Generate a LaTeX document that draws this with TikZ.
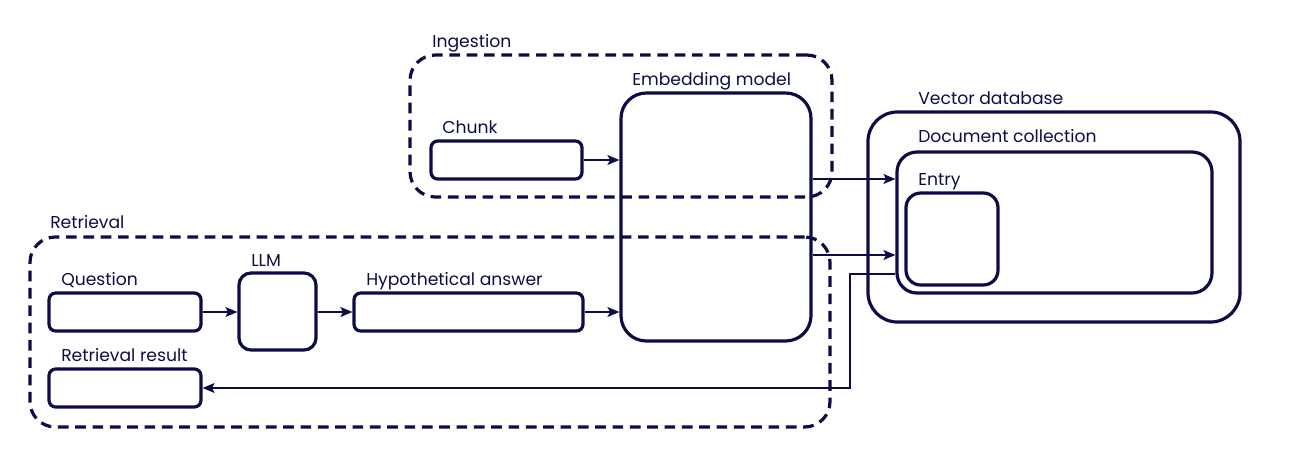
\documentclass[tikz,border=0pt]{standalone}
\usepackage{fontspec}
\setmainfont{Poppins}
\usetikzlibrary{fit,arrows.meta}
\definecolor{ink}{HTML}{0D0D45}
\begin{document}
\begin{tikzpicture}[x=0.75pt,y=-0.75pt,
  font=\fontsize{12.9}{15}\selectfont, text=ink,
  box/.style={draw=ink, line width=2.4pt, inner sep=0pt, rounded corners=#1},
  box/.default=5pt,
  group/.style={draw=ink, line width=2.4pt, inner sep=0pt, rounded corners=19pt, dash pattern=on 8pt off 5pt},
  lbl/.style={anchor=base west, inner sep=0pt},
  arr/.style={draw=ink, line width=1pt, -{Stealth[length=9pt,width=7.5pt,inset=2pt]}},
  thin/.style={draw=ink, line width=0.8pt, -{Stealth[length=9pt,width=7.5pt,inset=2pt]}}]
\useasboundingbox (0,0) rectangle (1297,458);
% groups
\node[group, fit={(410,55) (832,197)}] (ing) {};
\node[lbl] (ingl) at (432,47) {Ingestion};
\node[group, fit={(30,237) (830,427)}] (ret) {};
\node[lbl] (retl) at (50,228) {Retrieval};
% boxes
\node[box, fit={(431,141) (582,179)}] (chunk) {};
\node[lbl] (chunkl) at (442,133) {Chunk};
\node[box=19pt, fit={(621,93) (811,341)}] (emb) {};
\node[lbl] (embl) at (632,85) {Embedding model};
\node[box, fit={(49,293) (201,331)}] (q) {};
\node[lbl] (ql) at (61,285) {Question};
\node[box=9pt, fit={(239,273) (316,350)}] (llm) {};
\node[lbl] (llml) at (251,266) {LLM};
\node[box, fit={(354,293) (583,331)}] (hyp) {};
\node[lbl] (hypl) at (366,285) {Hypothetical answer};
\node[box, fit={(49,369) (201,407)}] (res) {};
\node[lbl] (resl) at (61,361) {Retrieval result};
\node[box=22pt, fit={(868,112) (1240,322)}] (vdb) {};
\node[lbl] (vdbl) at (918,104) {Vector database};
\node[box=15pt, fit={(897,152) (1212,293)}] (doc) {};
\node[lbl] (docl) at (918,142) {Document collection};
\node[box=11pt, fit={(906,193) (998,285)}] (entry) {};
\node[lbl] (entryl) at (918,185) {Entry};
% connector helpers
\coordinate (a1) at (0,179);
\coordinate (a2) at (0,255);
\coordinate (r1) at (850,274);
% connectors
\draw[arr] (chunk.east) -- (emb.west |- chunk.east);
\draw[arr] (q.east) -- (llm.west |- q.east);
\draw[arr] (llm.east |- hyp.west) -- (hyp.west);
\draw[arr] (hyp.east) -- (emb.west |- hyp.east);
\draw[arr] (emb.east |- a1) -- (doc.west |- a1);
\draw[arr] (emb.east |- a2) -- (doc.west |- a2);
\draw[thin] (doc.west |- r1) -- (r1) -- (r1 |- res.east) -- (res.east);
\end{tikzpicture}
\end{document}
